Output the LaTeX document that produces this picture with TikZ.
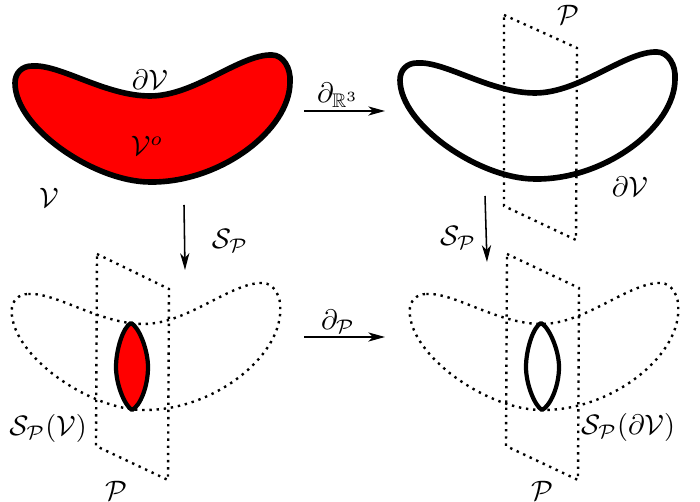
\documentclass[tikz,border=0pt]{standalone}
\usepackage{amsmath, amssymb}
\usetikzlibrary{arrows.meta}
\newcommand{\beanpath}{(32,66) .. controls (60,64) and (105,96) .. (150,96) .. controls (195,96) and (240,54) .. (272,55) .. controls (283,55) and (291,68) .. (290,82) .. controls (290,130) and (220,183) .. (150,182) .. controls (95,182) and (15,128) .. (15,83) .. controls (15,73) and (22,66) .. (32,66) -- cycle}
\begin{document}
\begin{tikzpicture}[
    x=0.0125cm, y=-0.0125cm,
    bean/.style={draw=black, line width=2pt, line join=round},
    beanline/.style={draw=black, line width=0.85pt, dash pattern=on 0.85pt off 1.7pt},
    plane/.style={draw=black, line width=0.85pt, dash pattern=on 0.85pt off 1.7pt},
    lens/.style={draw=black, line width=1.5pt, line join=round},
    mapto/.style={-{Stealth[length=2.1mm, width=1.15mm, inset=0.6mm]}, line width=0.55pt},
    tag/.style={inner sep=0pt}
]
\useasboundingbox (0,0) rectangle (700,502);
\fill[white] (0,0) rectangle (700,502);
% top row
\draw[plane] (504,15) -- (577,48) -- (576,240) -- (504,206) -- cycle;
\draw[bean, fill=red] \beanpath;
\begin{scope}[shift={(385,-3)}]
\draw[bean] \beanpath;
\end{scope}
% bottom row
\draw[plane] (97,254) -- (169,289) -- (168,480) -- (96,446) -- cycle;
\draw[plane] (507,254) -- (579,288) -- (578,480) -- (506,446) -- cycle;
\begin{scope}[shift={(-3,228)}, x=0.0122cm]
\draw[beanline] \beanpath;
\end{scope}
\begin{scope}[shift={(395,228)}, x=0.0122cm]
\draw[beanline] \beanpath;
\end{scope}
\draw[lens, fill=red] (131,323) .. controls (123,327) and (116,350) .. (116,367) .. controls (116,385) and (125,406) .. (132,410) .. controls (140,406) and (148,387) .. (148,367) .. controls (148,350) and (139,327) .. (131,323) -- cycle;
\draw[lens] (541,323) .. controls (533,327) and (526,350) .. (526,367) .. controls (526,385) and (535,406) .. (542,410) .. controls (550,406) and (559,387) .. (559,367) .. controls (559,350) and (549,327) .. (541,323) -- cycle;
% arrows
\coordinate (rimfrom) at (304,111);
\coordinate (rimto) at (385,111);
\coordinate (cutfrom) at (184,205);
\coordinate (cutto) at (185,270);
\coordinate (cutrimfrom) at (485,196);
\coordinate (cutrimto) at (487,262);
\coordinate (edgefrom) at (304,337);
\coordinate (edgeto) at (385,337);
\draw[mapto] (rimfrom) -- (rimto);
\draw[mapto] (cutfrom) -- (cutto);
\draw[mapto] (cutrimfrom) -- (cutrimto);
\draw[mapto] (edgefrom) -- (edgeto);
% labels
\node[tag] (rimlabel) at (338,95) {$\partial_{\mathbb{R}^3}$};
\node[tag] (cutlabel) at (230,241) {$\mathcal{S}_{\mathcal{P}}$};
\node[tag] (cutrimlabel) at (458,238) {$\mathcal{S}_{\mathcal{P}}$};
\node[tag] (edgelabel) at (338,322) {$\partial_{\mathcal{P}}$};
\node[tag] (vol) at (49,198) {$\mathcal{V}$};
\node[tag] (volrim) at (150,80) {$\partial\mathcal{V}$};
\node[tag] (volint) at (147,146) {$\mathcal{V}^o$};
\node[tag] (planetop) at (568,15) {$\mathcal{P}$};
\node[tag] (rimtop) at (630,187) {$\partial\mathcal{V}$};
\node[tag] (sectvol) at (48,428) {$\mathcal{S}_{\mathcal{P}}(\mathcal{V})$};
\node[tag] (planeleft) at (116,491) {$\mathcal{P}$};
\node[tag] (sectrim) at (628,427) {$\mathcal{S}_{\mathcal{P}}(\partial\mathcal{V})$};
\node[tag] (planeright) at (542,491) {$\mathcal{P}$};
\end{tikzpicture}
\end{document}
